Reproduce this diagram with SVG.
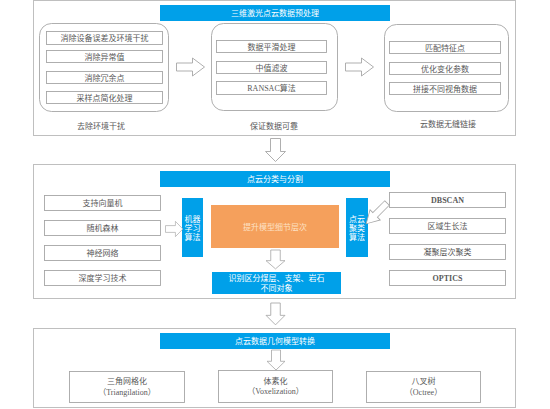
<svg xmlns="http://www.w3.org/2000/svg" width="550" height="409" viewBox="0 0 550 409">
<style>
.panel{fill:#fff;stroke:#bfbfbf;stroke-width:1}
.rbox{fill:#fff;stroke:#a6a6a6;stroke-width:0.9}
.item{fill:#fff;stroke:#a6a6a6;stroke-width:0.9}
.bar{fill:#00a0e9}
.t{font-family:"Liberation Serif","Noto Sans CJK SC",serif;font-size:8px;fill:#595959;text-anchor:middle}
.w{font-family:"Liberation Serif","Noto Sans CJK SC",serif;font-size:8px;fill:#ffffff;text-anchor:middle}
.o{font-family:"Liberation Serif","Noto Sans CJK SC",serif;font-size:8px;fill:#fde0c4;text-anchor:middle}
.b{font-weight:bold}
.arr{fill:#fff;stroke:#a6a6a6;stroke-width:0.9}
</style>
<defs>
<path id="ra" d="M0,-4 H16 V-9 L28,0 L16,9 V4 H0 Z"/>
<path id="da" d="M-5,0 V13 H-10 L0,23 L10,13 H5 V0 Z"/>
</defs>
<rect width="550" height="409" fill="#fff"/>

<g id="panel1">
<rect class="panel" x="33.5" y="0.5" width="482" height="135"/>
<rect class="bar" x="160" y="5" width="230" height="16"/>
<text class="w" x="275" y="16">三维激光点云数据预处理</text>
</g>
<g id="group-remove">
<rect class="rbox" x="39.5" y="23.5" width="129" height="88" rx="12"/>
<rect class="item" x="46.5" y="31.5" width="116" height="13"/>
<text class="t" x="104.5" y="41">消除设备误差及环境干扰</text>
<rect class="item" x="46.5" y="50.5" width="116" height="12"/>
<text class="t" x="104.5" y="59.5">消除异常值</text>
<rect class="item" x="46.5" y="71.5" width="116" height="12"/>
<text class="t" x="104.5" y="80.5">消除冗余点</text>
<rect class="item" x="46.5" y="91.5" width="116" height="12"/>
<text class="t" x="104.5" y="100.5">采样点简化处理</text>
<text class="t" x="101" y="129">去除环境干扰</text>
</g>
<g id="group-reliable">
<rect class="rbox" x="211.5" y="23.5" width="126" height="87" rx="12"/>
<rect class="item" x="216.5" y="40.5" width="110" height="12"/>
<text class="t" x="271.5" y="49.5">数据平滑处理</text>
<rect class="item" x="216.5" y="61.5" width="110" height="12"/>
<text class="t" x="271.5" y="70.5">中值滤波</text>
<rect class="item" x="216.5" y="81.5" width="110" height="13"/>
<text class="t" x="271.5" y="91">RANSAC算法</text>
<text class="t" x="274" y="129">保证数据可靠</text>
</g>
<g id="group-link">
<rect class="rbox" x="384.5" y="24.5" width="124" height="87" rx="12"/>
<rect class="item" x="389.5" y="41.5" width="111" height="12"/>
<text class="t" x="445" y="50.5">匹配特征点</text>
<rect class="item" x="389.5" y="62.5" width="111" height="12"/>
<text class="t" x="445" y="71.5">优化变化参数</text>
<rect class="item" x="389.5" y="82.5" width="111" height="12"/>
<text class="t" x="445" y="91.5">拼接不同视角数据</text>
<text class="t" x="448" y="127">云数据无缝链接</text>
</g>

<g id="panel2">
<rect class="panel" x="33.5" y="164.5" width="482" height="134"/>
<rect class="bar" x="160" y="171" width="230" height="16"/>
<text class="w" x="275" y="182">点云分类与分割</text>
</g>
<g id="ml-list">
<rect class="item" x="44.5" y="195.5" width="116" height="15"/>
<text class="t" x="102.5" y="206">支持向量机</text>
<rect class="item" x="44.5" y="220.5" width="116" height="15"/>
<text class="t" x="102.5" y="231">随机森林</text>
<rect class="item" x="44.5" y="245.5" width="116" height="15"/>
<text class="t" x="102.5" y="256">神经网络</text>
<rect class="item" x="44.5" y="270.5" width="116" height="15"/>
<text class="t" x="102.5" y="281">深度学习技术</text>
</g>
<g id="ml">
<rect class="bar" x="182" y="198" width="21" height="59"/>
<text class="w" x="192.5" y="222">机器</text>
<text class="w" x="192.5" y="231">学习</text>
<text class="w" x="192.5" y="240">算法</text>
</g>
<g id="detail">
<rect x="211" y="205" width="128" height="43" fill="#f5a05c"/>
<text class="o" x="275" y="229.5">提升模型细节层次</text>
</g>
<g id="cluster">
<rect class="bar" x="346" y="198" width="22" height="59"/>
<text class="w" x="357" y="222">点云</text>
<text class="w" x="357" y="231">聚类</text>
<text class="w" x="357" y="240">算法</text>
</g>
<g id="cluster-list">
<rect class="item" x="389.5" y="192.5" width="116" height="15"/>
<text class="t b" x="447.5" y="203">DBSCAN</text>
<rect class="item" x="389.5" y="218.5" width="116" height="15"/>
<text class="t" x="447.5" y="229">区域生长法</text>
<rect class="item" x="389.5" y="244.5" width="116" height="15"/>
<text class="t" x="447.5" y="255">凝聚层次聚类</text>
<rect class="item" x="389.5" y="270.5" width="116" height="15"/>
<text class="t b" x="447.5" y="281">OPTICS</text>
</g>
<g id="identify">
<rect class="bar" x="212" y="272" width="129" height="22"/>
<text class="w" x="276.5" y="281">识别区分煤层、支架、岩石</text>
<text class="w" x="276.5" y="290.5">不同对象</text>
</g>

<g id="panel3">
<rect class="panel" x="33.5" y="328.5" width="482" height="79"/>
<rect class="bar" x="160" y="333" width="230" height="16"/>
<text class="w" x="275" y="344">点云数据几何模型转换</text>
</g>
<g id="tri">
<rect class="item" x="69.5" y="371.5" width="115" height="31"/>
<text class="t" x="127" y="384">三角网格化</text>
<text class="t" x="127" y="394.5">（Triangilation）</text>
</g>
<g id="voxel">
<rect class="item" x="218.5" y="370.5" width="114" height="32"/>
<text class="t" x="275.5" y="383.5">体素化</text>
<text class="t" x="275.5" y="394">（Voxelization）</text>
</g>
<g id="octree">
<rect class="item" x="366.5" y="371.5" width="114" height="31"/>
<text class="t" x="423.5" y="384">八叉树</text>
<text class="t" x="423.5" y="394.5">（Octree）</text>
</g>

<g id="connectors">
<use href="#ra" class="arr" transform="translate(176.5,67)"/>
<use href="#ra" class="arr" transform="translate(345.5,67)"/>
<use href="#da" class="arr" transform="translate(275.5,138.5)"/>
<use href="#ra" class="arr" transform="translate(165.5,229) scale(0.62,0.85)"/>
<use href="#ra" class="arr" transform="translate(387,203) rotate(135) scale(1.05,0.8)"/>
<use href="#da" class="arr" transform="translate(275.5,250) scale(0.95,0.82)"/>
<use href="#da" class="arr" transform="translate(275.5,303) scale(0.95,0.95)"/>
<use href="#da" class="arr" transform="translate(276,350) scale(0.9,0.87)"/>
</g>
</svg>
